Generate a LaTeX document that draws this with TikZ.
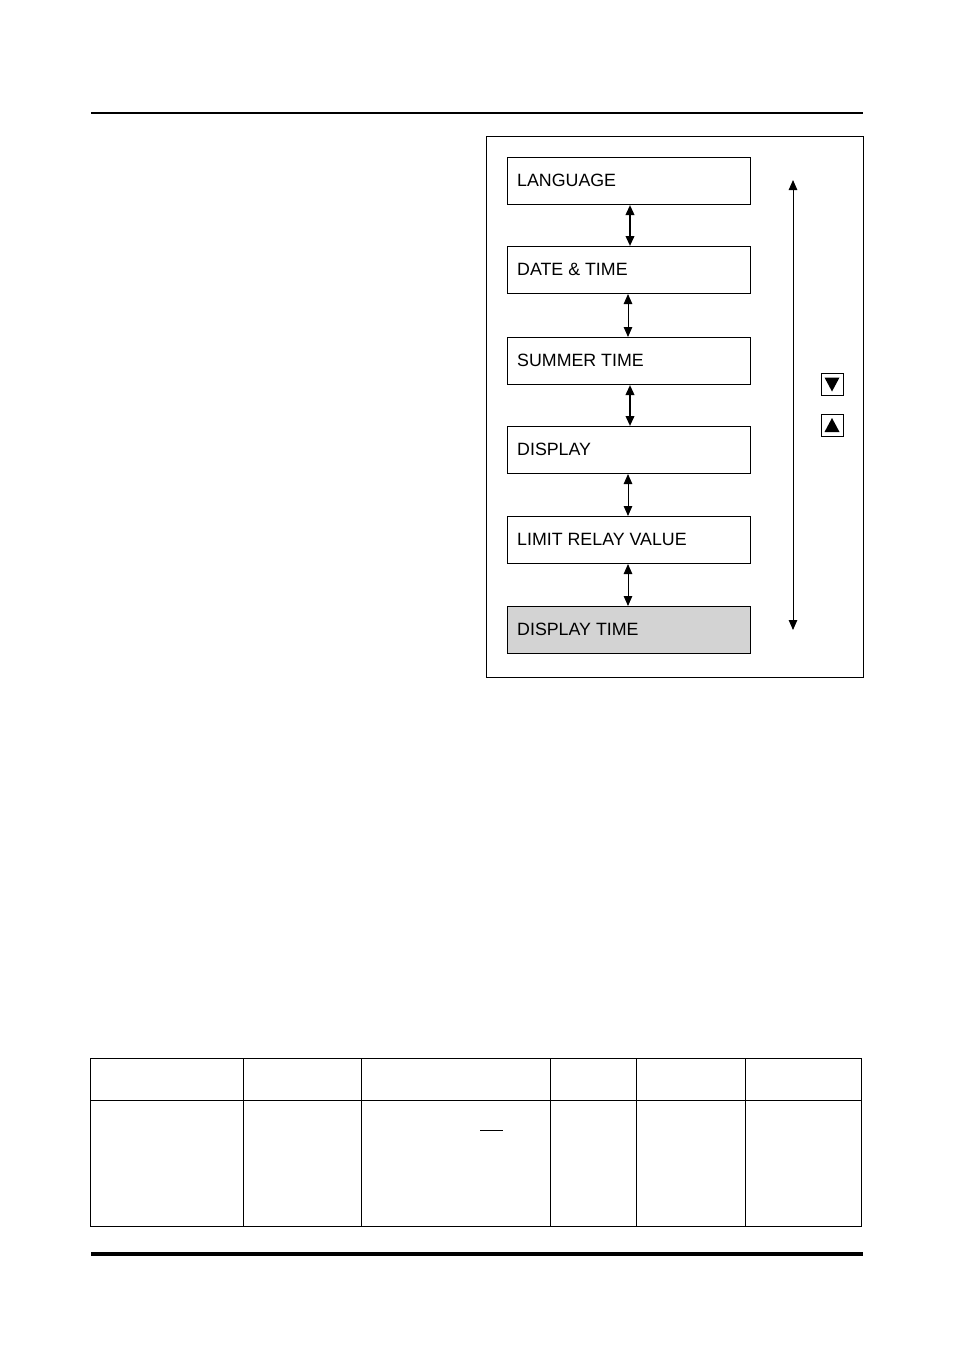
\documentclass[tikz,border=0pt]{standalone}
\usepackage{fontspec}
\setmainfont{Liberation Sans}
\usetikzlibrary{arrows.meta}
\begin{document}
\begin{tikzpicture}[x=1pt,y=-1pt,
  menubox/.style={draw,line width=1pt,minimum width=243pt,minimum height=47pt,anchor=north west,inner sep=0pt},
  lbl/.style={anchor=west,font=\fontsize{17.8}{20}\selectfont,inner sep=0pt},
  dbl/.style={{Triangle[width=8.5pt,length=10pt]}-{Triangle[width=8.5pt,length=10pt]}},
  rule/.style={line width=1pt}]
\useasboundingbox (0,0) rectangle (954,1350);
% header / footer rules
\coordinate (tl) at (91,113); \coordinate (tr) at (863,113);
\draw[line width=2.5pt] (tl) -- (tr);
\coordinate (bl) at (91,1254); \coordinate (br) at (863,1254);
\draw[line width=3.5pt] (bl) -- (br);
% frame
\node[draw,line width=0.8pt,minimum width=377pt,minimum height=541pt,anchor=north west,inner sep=0pt] (frame) at (486,136) {};
% menu boxes
\node[menubox] (b1) at (507,157) {};
\node[lbl] at (517,180.5) {LANGUAGE};
\node[menubox] (b2) at (507,246) {};
\node[lbl] at (517,269.5) {DATE \& TIME};
\node[menubox] (b3) at (507,337) {};
\node[lbl] at (517,360) {SUMMER TIME};
\node[menubox] (b4) at (507,426) {};
\node[lbl] at (517,449.5) {DISPLAY};
\node[menubox] (b5) at (507,516) {};
\node[lbl] at (517,539.5) {LIMIT RELAY VALUE};
\node[menubox,fill={rgb,255:red,211;green,211;blue,211}] (b6) at (507,606) {};
\node[lbl] at (517,629.5) {DISPLAY TIME};
% connectors
\draw[dbl,line width=2pt] ([xshift=1pt]b1.south) -- ([xshift=1pt]b2.north);
\draw[dbl,line width=1pt] ([xshift=-1pt]b2.south) -- ([xshift=-1pt]b3.north);
\draw[dbl,line width=2pt] ([xshift=1pt]b3.south) -- ([xshift=1pt]b4.north);
\draw[dbl,line width=1pt] ([xshift=-1pt]b4.south) -- ([xshift=-1pt]b5.north);
\draw[dbl,line width=1pt] ([xshift=-1pt]b5.south) -- ([xshift=-1pt]b6.north);
% long arrow
\coordinate (lt) at (793,180); \coordinate (lb) at (793,630);
\draw[dbl,line width=1pt] (lt) -- (lb);
% key symbols
\node[draw,line width=1pt,minimum size=22pt,inner sep=0pt] (kd) at (832,384.5) {};
\fill ([xshift=-7.5pt,yshift=7pt]kd.center) -- ([xshift=7.5pt,yshift=7pt]kd.center) -- ([yshift=-7pt]kd.center) -- cycle;
\node[draw,line width=1pt,minimum size=22pt,inner sep=0pt] (ku) at (832,425) {};
\fill ([xshift=-7.5pt,yshift=-7pt]ku.center) -- ([xshift=7.5pt,yshift=-7pt]ku.center) -- ([yshift=7pt]ku.center) -- cycle;
% table
\draw[rule] (90,1058) rectangle (861,1226);
\draw[rule] (90,1100) -- (861,1100);
\foreach \x in {243,361,550,636,745} \draw[rule] (\x,1058) -- (\x,1226);
\draw[line width=1pt] (480,1130) -- (503,1130);
\end{tikzpicture}
\end{document}
